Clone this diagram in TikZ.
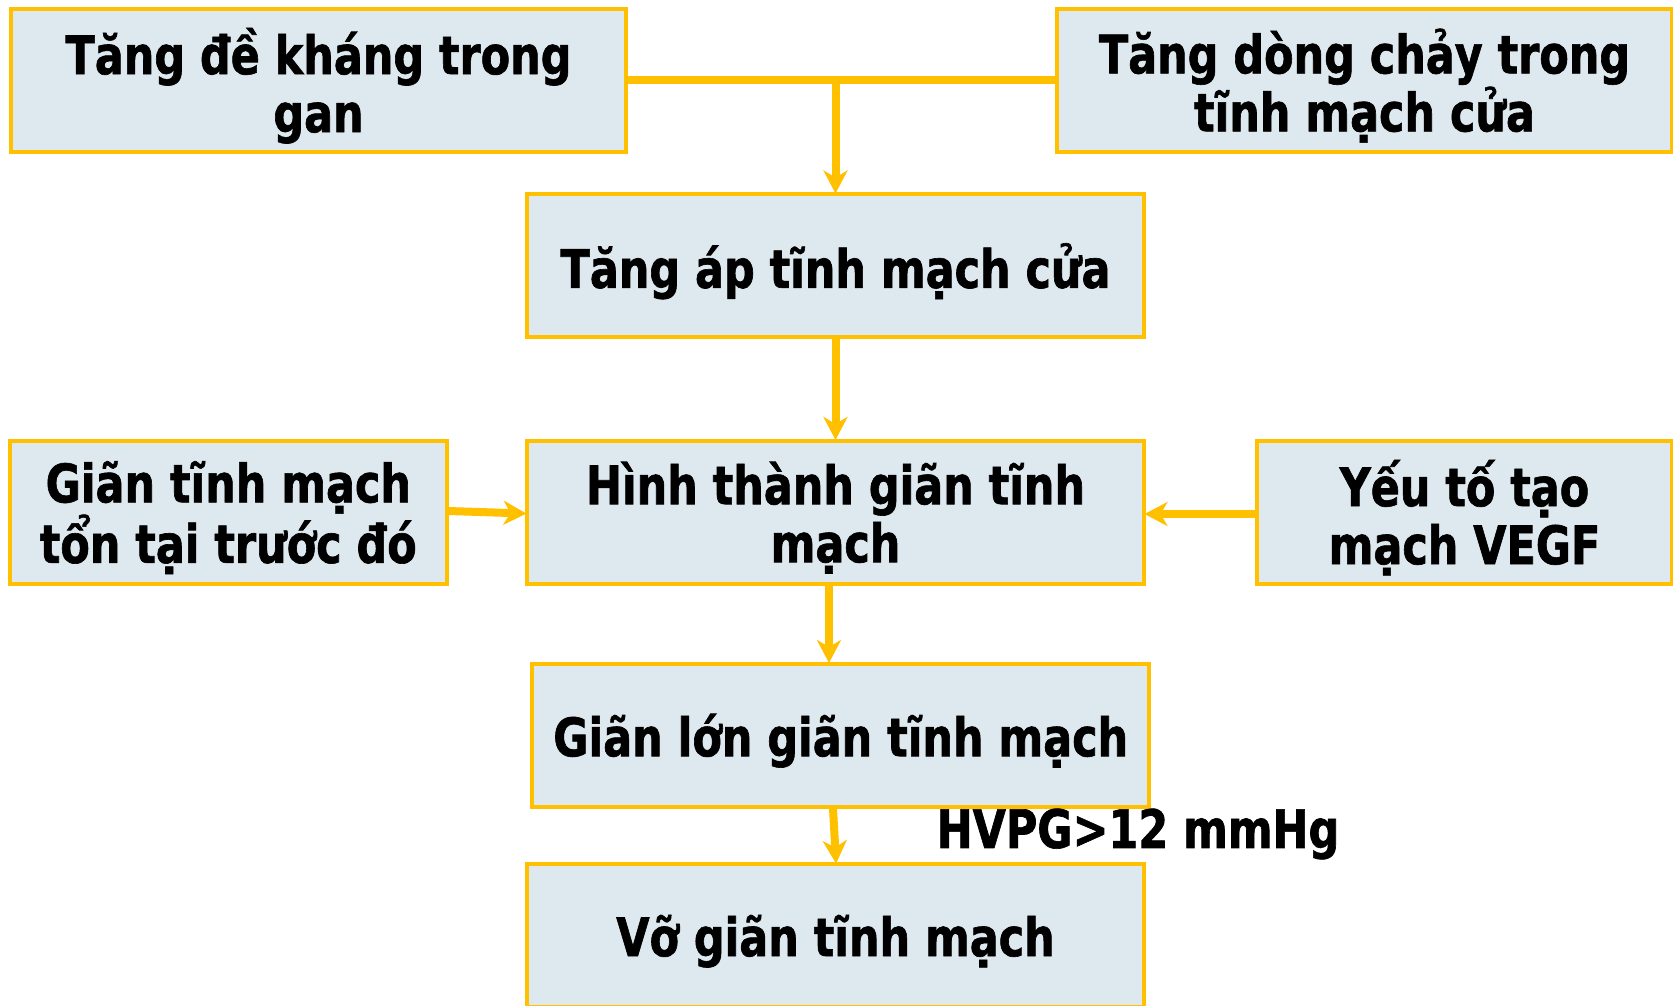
\documentclass[tikz,border=0pt]{standalone}
\usepackage{fontspec}
\setmainfont{DejaVu Sans}
\newfontfamily\boxfont{DejaVu Sans Condensed Bold}[FakeStretch=0.9, FakeBold=1.2]
\usetikzlibrary{arrows.meta}
\definecolor{gold}{RGB}{255,192,0}
\definecolor{boxfill}{RGB}{222,232,239}
\tikzset{
  boxtext/.style={font=\fontsize{53}{58}\selectfont\boxfont, text=black},
  stepbox/.style={boxtext, draw=gold, fill=boxfill, line width=4pt, inner sep=0pt,
    align=center, text depth=0pt},
  link/.style={draw=gold, line width=8pt},
  flow/.style={link, -{Stealth[length=23pt, width=24pt, inset=7pt]}, shorten >=-1.5pt}
}
\begin{document}
\begin{tikzpicture}[x=1pt, y=1pt]
  \useasboundingbox (0,0) rectangle (1673,-1005);
  % causes at the top
  \node[stepbox, minimum width=615.6pt, minimum height=143pt] (resist) at (318.5,-80) {Tăng đề kháng trong\\gan};
  \node[stepbox, minimum width=615pt, minimum height=143pt] (inflow) at (1364.5,-80) {Tăng dòng chảy trong\\tĩnh mạch cửa};
  % main chain
  \node[stepbox, minimum width=617pt, minimum height=143pt] (portal) at (835.5,-265.5) {Tăng áp tĩnh mạch cửa};
  \node[stepbox, minimum width=617pt, minimum height=143pt] (form) at (835.5,-512) {Hình thành giãn tĩnh\\mạch};
  \node[stepbox, minimum width=437.4pt, minimum height=143pt] (prior) at (228.3,-512) {Giãn tĩnh mạch\\tổn tại trước đó};
  \node[stepbox, minimum width=415pt, minimum height=143pt] (vegf) at (1464.5,-512) {Yếu tố tạo\\mạch VEGF};
  \node[stepbox, minimum width=616.6pt, minimum height=143pt] (enlarge) at (840.7,-735) {Giãn lớn giãn tĩnh mạch};
  \node[stepbox, minimum width=617pt, minimum height=143pt] (rupture) at (835.5,-935.5) {Vỡ giãn tĩnh mạch};
  % threshold label
  \node[boxtext, inner sep=0pt] (hvpg) at (1138,-834) {HVPG>12 mmHg};
  % connectors
  \coordinate (join) at (835.5,-80);
  \draw[link] (resist.east) -- (inflow.west);
  \draw[flow] (join) -- (portal.north);
  \draw[flow] (portal.south) -- (form.north);
  \draw[flow] (prior.east |- 0,-511) -- (form.west |- 0,-513.5);
  \draw[flow] (vegf.west |- 0,-514) -- (form.east |- 0,-514);
  \draw[flow] (form.south -| 829,0) -- (enlarge.north -| 829,0);
  \draw[flow] (enlarge.south -| 833,0) -- (rupture.north -| 836,0);
\end{tikzpicture}
\end{document}
